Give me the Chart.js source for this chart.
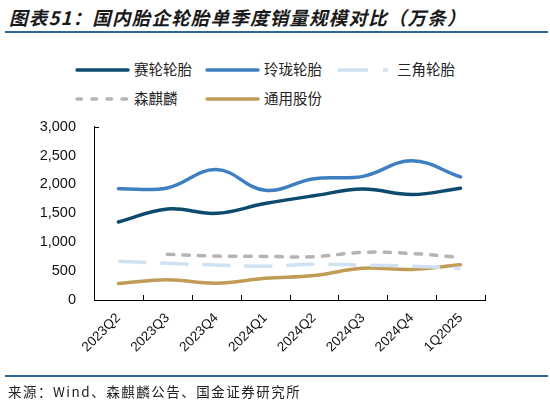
<!DOCTYPE html>
<html>
<head>
<meta charset="utf-8">
<script src="https://cdn.jsdelivr.net/npm/chart.js@4"></script>
<style>
  body { margin: 0; width: 550px; height: 403px; background: #fff; position: relative; overflow: hidden;
         font-family: "Noto Sans CJK SC", "Liberation Sans", sans-serif; }
  #title { position: absolute; left: 9px; top: 4px; font-size: 18.5px; font-style: italic; font-weight: bold;
           color: #1a1a1a; white-space: nowrap; letter-spacing: 1.2px; }
  .rule { position: absolute; left: 5px; width: 543px; background: #2f6795; }
  #source { position: absolute; left: 8px; top: 381px; font-size: 13.5px; color: #222; white-space: nowrap; letter-spacing: 1.5px; }
  .lg { position: absolute; font-size: 14.5px; color: #222; white-space: nowrap; line-height: 20px; }
  .lg svg { position: absolute; }
  #wrap { position: absolute; left: 0; top: 100px; width: 550px; height: 280px; }
</style>
</head>
<body>
<div id="title">图表51：国内胎企轮胎单季度销量规模对比（万条）</div>
<div class="rule" style="top:31px;height:2px;"></div>
<div id="legend"></div>
<div id="wrap"><canvas id="chart"></canvas></div>
<div class="rule" style="top:375px;height:1.5px;"></div>
<div id="source">来源：Wind、森麒麟公告、国金证券研究所</div>

<script>
// Data (万条)
const quarters = ['2023Q2', '2023Q3', '2023Q4', '2024Q1', '2024Q2', '2024Q3', '2024Q4', '1Q2025'];
const sailun = [1350, 1575, 1500, 1670, 1805, 1920, 1825, 1935];
const linglong = [1925, 1940, 2260, 1900, 2100, 2140, 2410, 2130];
const sanjiao = [670, 635, 605, 585, 620, 605, 585, 545];
const senqilin = [null, 790, 760, 755, 750, 825, 805, 735];
const tongyong = [285, 350, 290, 375, 425, 550, 530, 610];
const yTicks = [0, 500, 1000, 1500, 2000, 2500, 3000];

const series = [
  { label: '赛轮轮胎', data: sailun, color: '#0c4a6e', dash: [], cap: 'round' },
  { label: '玲珑轮胎', data: linglong, color: '#3e7fc1', dash: [], cap: 'round' },
  { label: '三角轮胎', data: sanjiao, color: '#cfe1f2', dash: [28, 14], cap: 'butt' },
  { label: '森麒麟', data: senqilin, color: '#b4b4b4', dash: [6.5, 9], cap: 'round' },
  { label: '通用股份', data: tongyong, color: '#c19c57', dash: [], cap: 'round' }
];

// Legend (HTML, two rows laid out like the original)
const legendSlots = [
  { x: 77, y: 70 }, { x: 207, y: 70 }, { x: 338, y: 70 },
  { x: 77, y: 99 }, { x: 207, y: 99 }
];
const legendEl = document.getElementById('legend');
series.forEach((s, i) => {
  const slot = legendSlots[i];
  const sampleW = i === 2 ? 52 : 53;
  const legendDash = i === 3 ? '4.5 10.5' : (i === 2 ? '30 15' : '');
  const item = document.createElement('div');
  item.className = 'lg';
  item.style.left = slot.x + 'px';
  item.style.top = (slot.y - 10) + 'px';
  item.innerHTML =
    `<svg width="${sampleW + 4}" height="20" style="left:-2px;top:0">` +
    `<line x1="2" y1="10" x2="${sampleW}" y2="10" stroke="${s.color}" stroke-width="3.5" ` +
    `stroke-linecap="${s.cap}" stroke-dasharray="${legendDash}"/></svg>` +
    `<span style="position:absolute;left:${i === 2 ? 59 : 57}px;top:-1px">${s.label}</span>`;
  legendEl.appendChild(item);
});

// Inward tick marks on the category axis, plus the small cap at the top of the value axis
const innerTicks = {
  id: 'innerTicks',
  afterDraw(chart) {
    const xs = chart.scales.x;
    const ys = chart.scales.y;
    const ctx = chart.ctx;
    const n = quarters.length;
    ctx.save();
    ctx.strokeStyle = '#000';
    ctx.lineWidth = 1;
    ctx.beginPath();
    for (let i = 0; i <= n; i++) {
      const px = Math.round(xs.left + i * (xs.right - xs.left) / n) + 0.5;
      ctx.moveTo(px, xs.top);
      ctx.lineTo(px, xs.top - 5);
    }
    const topY = Math.round(ys.getPixelForValue(3000)) + 0.5;
    ctx.moveTo(ys.right, topY);
    ctx.lineTo(ys.right + 5, topY);
    ctx.stroke();
    ctx.restore();
  }
};

new Chart(document.getElementById('chart'), {
  type: 'line',
  data: {
    labels: quarters,
    datasets: series.map(s => ({
      label: s.label,
      data: s.data,
      borderColor: s.color,
      backgroundColor: s.color,
      borderWidth: 3.5,
      borderDash: s.dash,
      borderCapStyle: s.cap,
      tension: 0.4,
      pointRadius: 0,
      fill: false
    }))
  },
  options: {
    responsive: true,
    maintainAspectRatio: false,
    animation: false,
    layout: { padding: { top: 14, right: 65, left: 0, bottom: 0 } },
    plugins: {
      legend: { display: false },
      tooltip: { enabled: false }
    },
    scales: {
      x: {
        offset: true,
        grid: { display: false, drawTicks: false },
        border: { display: true, color: '#000', width: 1 },
        ticks: {
          color: '#111',
          font: { family: 'Liberation Sans', size: 13.5 },
          maxRotation: 45,
          minRotation: 45,
          padding: 10
        },
        afterFit(scale) { scale.height = 80; }
      },
      y: {
        min: 0,
        max: 3000,
        grid: { display: false, drawTicks: false },
        border: { display: true, color: '#000', width: 1 },
        afterBuildTicks(scale) { scale.ticks = yTicks.map(v => ({ value: v })); },
        ticks: {
          color: '#111',
          font: { family: 'Liberation Sans', size: 14.5 },
          padding: 18,
          callback: v => v.toLocaleString('en-US')
        },
        afterFit(scale) { scale.width = 94; }
      }
    }
  },
  plugins: [innerTicks]
});
</script>
</body>
</html>
